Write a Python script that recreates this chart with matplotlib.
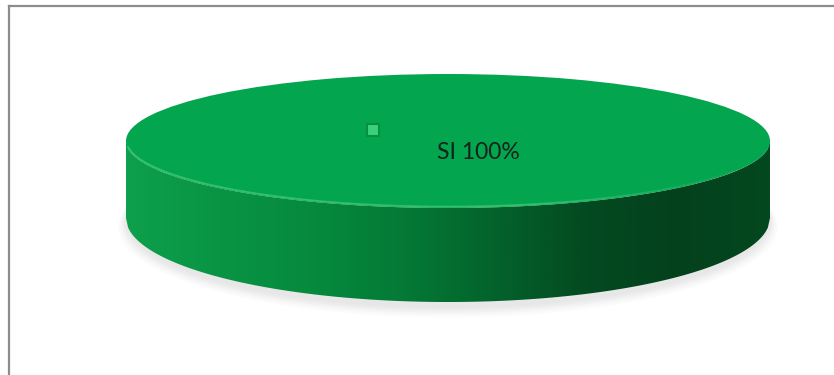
import numpy as np
import matplotlib
matplotlib.use("Agg")
import matplotlib.pyplot as plt
from matplotlib.colors import LinearSegmentedColormap
from matplotlib.patches import Ellipse, Polygon
from matplotlib.lines import Line2D
from matplotlib.collections import LineCollection

# data
labels = ["SI"]
values = [100]
colors = ["#03A54F"]

# geometry of the 3D disc (pixels in the 834x375 picture)
W, H = 834, 375
CX, CY = 448, 141      # centre of top face
RX, RY = 322, 67       # semi-axes of top face
DROP = 77 / RY         # bottom ellipse centre below top centre (unit radii)
BOT_RY = 84 / RY       # bottom ellipse semi-height (unit radii)

fig = plt.figure(figsize=(W / 100, H / 100), dpi=100)
ax = fig.add_axes([0, 0, 1, 1])

# top face of the pie, drawn as a unit circle and squashed by the axis limits
wedges, _ = ax.pie(values, colors=colors, radius=1, center=(0, 0),
                   startangle=90, counterclock=False,
                   wedgeprops=dict(linewidth=0), labels=None)
for w in wedges:
    w.set_zorder(5)

# side wall (front half of the disc), horizontal shading
x = np.linspace(-1, 1, 300)
top_edge = -np.sqrt(1 - x ** 2)
bot_edge = -DROP - BOT_RY * np.sqrt(1 - x ** 2)
side = np.column_stack([np.r_[x, x[::-1]], np.r_[top_edge, bot_edge[::-1]]])
side_patch = Polygon(side, closed=True, facecolor="none", edgecolor="none")
ax.add_patch(side_patch)
side_cmap = LinearSegmentedColormap.from_list(
    "side", ["#0EA04C", "#099444", "#068A3E", "#047A36", "#03632B",
             "#034A21", "#03411D", "#04481F"])
grad = np.linspace(0, 1, 256).reshape(1, -1)
im = ax.imshow(grad, cmap=side_cmap, aspect="auto",
               extent=[-1, 1, -DROP - BOT_RY, 0], zorder=3)
im.set_clip_path(side_patch)

# soft shadow under the disc
for k, a in zip(range(5), [0.035, 0.03, 0.03, 0.025, 0.02]):
    ax.add_patch(Ellipse((0.0, -DROP - 0.05 - 0.02 * k), 2.0 + 0.012 * k,
                         2 * BOT_RY + 0.08 + 0.03 * k,
                         facecolor="#555555", edgecolor="none", alpha=a, zorder=1))

# light rim along the front edge of the top face, fading to the right
rim_x = np.linspace(-0.995, 0.95, 200)
rim_y = -np.sqrt(1 - rim_x ** 2) + 0.02
pts = np.column_stack([rim_x, rim_y]).reshape(-1, 1, 2)
segs = np.concatenate([pts[:-1], pts[1:]], axis=1)
fade = np.clip((0.95 - rim_x[:-1]) / 0.7, 0, 1) * 0.85
rim = LineCollection(segs, colors=[(0.25, 0.78, 0.47, a) for a in fade],
                     linewidths=1.3, zorder=6)
ax.add_collection(rim)

# data label with legend key
pct = values[0] / sum(values) * 100
ax.plot([-0.233], [0.165], marker="s", markersize=8, color="#3BD07C",
        markeredgecolor="#07913F", markeredgewidth=1.5, zorder=7)
ax.text(0.093, -0.17, f"{labels[0]} {pct:.0f}%", fontsize=16.5,
        family="Lato", color="#17221B", ha="center", va="center", zorder=7)

ax.set_aspect("auto")
ax.set_xlim(-CX / RX, (W - CX) / RX)
ax.set_ylim((CY - H) / RY, CY / RY)
ax.axis("off")

# chart area border (left and top visible)
fig.add_artist(Line2D([8.5 / W, 8.5 / W], [0, 1 - 5.5 / H], color="#8C8C8C",
                      linewidth=1.6, transform=fig.transFigure))
fig.add_artist(Line2D([8.5 / W, 1], [1 - 5.5 / H, 1 - 5.5 / H], color="#8C8C8C",
                      linewidth=1.6, transform=fig.transFigure))

fig.savefig("out.png", dpi=100, facecolor="white")
